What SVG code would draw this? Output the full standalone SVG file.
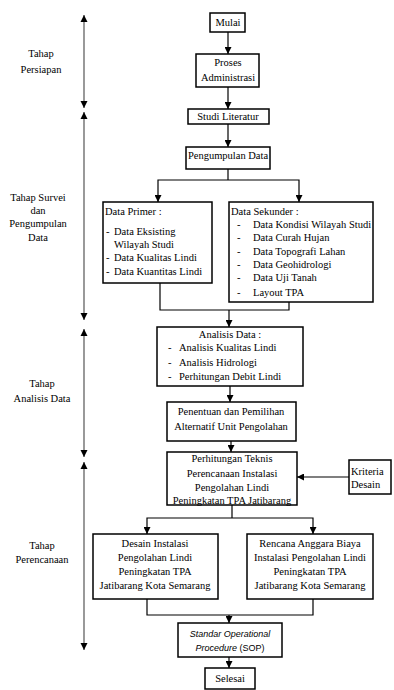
<svg xmlns="http://www.w3.org/2000/svg" width="394" height="690" viewBox="0 0 394 690">
<defs>
<marker id="ah" viewBox="0 0 10 10" refX="10" refY="5" markerWidth="7" markerHeight="7" markerUnits="userSpaceOnUse" orient="auto">
<path d="M0,0 L10,5 L0,10 z" fill="#000"/>
</marker>
<marker id="ahs" viewBox="0 0 10 10" refX="10" refY="5" markerWidth="7" markerHeight="8" markerUnits="userSpaceOnUse" orient="auto-start-reverse">
<path d="M0,0 L10,5 L0,10 z" fill="#000"/>
</marker>
<style>
text{font-family:"Liberation Serif","Times New Roman",serif;font-size:10.5px;fill:#000}
.c{text-anchor:middle}
.box{fill:#fff;stroke:#000;stroke-width:1.5}
.ln{fill:none;stroke:#000;stroke-width:1.2}
.ar{fill:none;stroke:#000;stroke-width:1.2;marker-end:url(#ah)}
.ph{fill:none;stroke:#808080;stroke-width:1.6;marker-start:url(#ahs);marker-end:url(#ahs)}
.sop{font-family:"Liberation Sans",Arial,sans-serif;font-size:9px}
</style>
</defs>
<g id="phases">
<line class="ph" x1="84" y1="15" x2="84" y2="108"/>
<line class="ph" x1="84" y1="112" x2="84" y2="320"/>
<line class="ph" x1="84" y1="329" x2="84" y2="457"/>
<line class="ph" x1="84" y1="462" x2="84" y2="650"/>
<text class="c" x="41" y="57">Tahap</text>
<text class="c" x="41" y="73">Persiapan</text>
<text class="c" x="38" y="201">Tahap Survei</text>
<text class="c" x="38" y="214">dan</text>
<text class="c" x="38" y="227">Pengumpulan</text>
<text class="c" x="38" y="241">Data</text>
<text class="c" x="42" y="387">Tahap</text>
<text class="c" x="42" y="402">Analisis Data</text>
<text class="c" x="42" y="549">Tahap</text>
<text class="c" x="42" y="563">Perencanaan</text>
</g>
<g id="connectors">
<line class="ar" x1="228" y1="32" x2="228" y2="54"/>
<line class="ar" x1="228" y1="87" x2="228" y2="109"/>
<line class="ar" x1="228" y1="124" x2="228" y2="147"/>
<polyline class="ln" points="228,169 228,180"/>
<polyline class="ar" points="228,180 158,180 158,202"/>
<polyline class="ar" points="228,180 299,180 299,202"/>
<polyline class="ln" points="160,283 160,310 289,310 289,302"/>
<line class="ar" x1="229" y1="310" x2="229" y2="327"/>
<line class="ar" x1="230" y1="386" x2="230" y2="402"/>
<line class="ar" x1="231" y1="441" x2="231" y2="452"/>
<line class="ar" x1="349" y1="477" x2="297" y2="477"/>
<polyline class="ln" points="232,505 232,518"/>
<polyline class="ar" points="232,518 147,518 147,534"/>
<polyline class="ar" points="232,518 313,518 313,534"/>
<polyline class="ln" points="147,599 147,615 313,615 313,599"/>
<line class="ar" x1="229" y1="615" x2="229" y2="623"/>
<line class="ar" x1="229" y1="657" x2="229" y2="668"/>
</g>
<g id="mulai">
<rect class="box" x="210" y="13" width="35" height="19"/>
<text class="c" x="228" y="26">Mulai</text>
</g>
<g id="proses">
<rect class="box" x="196" y="54" width="63" height="33"/>
<text class="c" x="228" y="66">Proses</text>
<text class="c" x="228" y="81">Administrasi</text>
</g>
<g id="studi">
<rect class="box" x="188" y="109" width="81" height="15"/>
<text class="c" x="228" y="120">Studi Literatur</text>
</g>
<g id="pengumpulan">
<rect class="box" x="186" y="147" width="84" height="22"/>
<text class="c" x="228" y="159">Pengumpulan Data</text>
</g>
<g id="primer">
<rect class="box" x="103" y="202" width="109" height="81"/>
<text x="105" y="215">Data Primer :</text>
<text x="106" y="235">-</text><text x="114" y="235">Data Eksisting</text>
<text x="114" y="248">Wilayah Studi</text>
<text x="106" y="261">-</text><text x="114" y="261">Data Kualitas Lindi</text>
<text x="106" y="275">-</text><text x="114" y="275">Data Kuantitas Lindi</text>
</g>
<g id="sekunder">
<rect class="box" x="229" y="202" width="144" height="100"/>
<text x="231" y="215">Data Sekunder :</text>
<text x="237" y="228">-</text><text x="253" y="228">Data Kondisi Wilayah Studi</text>
<text x="237" y="241">-</text><text x="253" y="241">Data Curah Hujan</text>
<text x="237" y="255">-</text><text x="253" y="255">Data Topografi Lahan</text>
<text x="237" y="268">-</text><text x="253" y="268">Data Geohidrologi</text>
<text x="237" y="281">-</text><text x="253" y="281">Data Uji Tanah</text>
<text x="237" y="296">-</text><text x="253" y="296">Layout TPA</text>
</g>
<g id="analisis">
<rect class="box" x="157" y="327" width="146" height="59"/>
<text class="c" x="230" y="338">Analisis Data :</text>
<text x="168" y="351">-</text><text x="179" y="351">Analisis Kualitas Lindi</text>
<text x="168" y="366">-</text><text x="179" y="366">Analisis Hidrologi</text>
<text x="168" y="380">-</text><text x="179" y="380">Perhitungan Debit Lindi</text>
</g>
<g id="penentuan">
<rect class="box" x="167" y="402" width="129" height="39"/>
<text class="c" x="231" y="415">Penentuan dan Pemilihan</text>
<text class="c" x="231" y="430">Alternatif Unit Pengolahan</text>
</g>
<g id="perhitungan">
<rect class="box" x="167" y="452" width="130" height="53"/>
<text class="c" x="232" y="462">Perhitungan Teknis</text>
<text class="c" x="232" y="477">Perencanaan Instalasi</text>
<text class="c" x="232" y="491">Pengolahan Lindi</text>
<text class="c" x="232" y="504">Peningkatan TPA Jatibarang</text>
</g>
<g id="kriteria">
<rect class="box" x="349" y="460" width="42" height="34"/>
<text x="351" y="475">Kriteria</text>
<text x="351" y="488">Desain</text>
</g>
<g id="desain">
<rect class="box" x="93" y="534" width="125" height="65"/>
<text class="c" x="155" y="547">Desain Instalasi</text>
<text class="c" x="155" y="561">Pengolahan Lindi</text>
<text class="c" x="155" y="575">Peningkatan TPA</text>
<text class="c" x="155" y="589">Jatibarang Kota Semarang</text>
</g>
<g id="rencana">
<rect class="box" x="247" y="534" width="126" height="65"/>
<text class="c" x="310" y="547">Rencana Anggara Biaya</text>
<text class="c" x="310" y="561">Instalasi Pengolahan Lindi</text>
<text class="c" x="310" y="575">Peningkatan TPA</text>
<text class="c" x="310" y="589">Jatibarang Kota Semarang</text>
</g>
<g id="sop">
<rect class="box" x="178" y="623" width="104" height="34"/>
<text class="c sop" x="230" y="637" font-style="italic">Standar Operational</text>
<text class="c sop" x="230" y="651"><tspan font-style="italic">Procedure</tspan> (SOP)</text>
</g>
<g id="selesai">
<rect class="box" x="205" y="668" width="50" height="21"/>
<text class="c" x="230" y="682">Selesai</text>
</g>
</svg>
